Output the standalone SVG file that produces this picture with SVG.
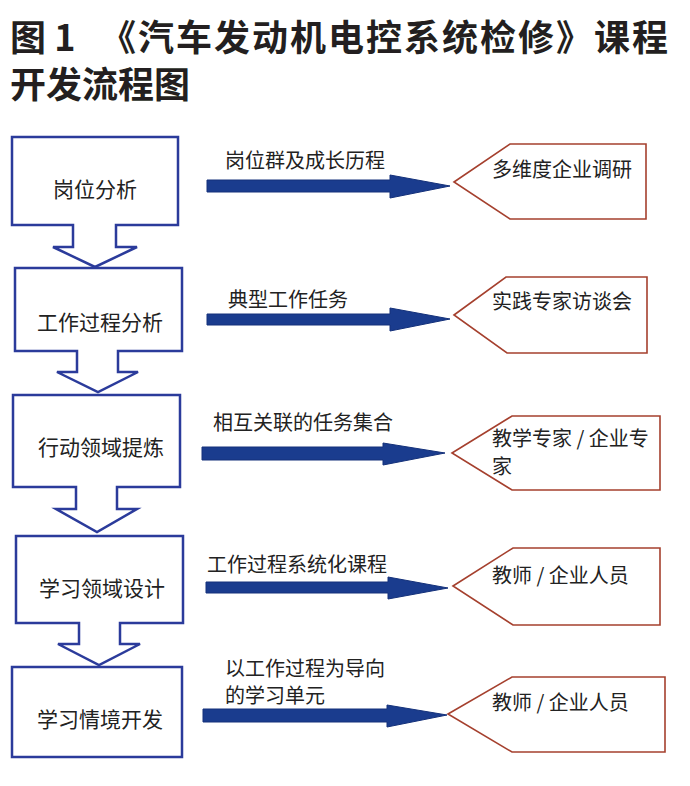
<svg xmlns="http://www.w3.org/2000/svg" width="690" height="786" viewBox="0 0 690 786">
<style>
.title{font-family:"Noto Sans CJK SC","Liberation Sans",sans-serif;font-weight:bold;font-size:36px;fill:#231f20}
.box{fill:#fff;stroke:#2b3b9b;stroke-width:2.5;stroke-linejoin:miter}
.call{fill:#fff;stroke:#a5402e;stroke-width:1.6}
.arr{fill:#1a3c8e;stroke:#14317a;stroke-width:1}
.t{font-family:"Noto Sans CJK SC","Liberation Sans",sans-serif;font-size:20px;fill:#222}
.bt{font-family:"Noto Sans CJK SC","Liberation Sans",sans-serif;font-size:21px;fill:#222;text-anchor:middle}
</style>
<rect width="690" height="786" fill="#fff"/>
<g id="title">
<text class="title" x="10" y="51">图 1</text>
<text class="title" x="100" y="51" textLength="568" lengthAdjust="spacing">《汽车发动机电控系统检修》课程</text>
<text class="title" x="10" y="98">开发流程图</text>
</g>
<g id="n1"><path class="box" d="M12,137 H178 V225 H116 V247 H137 L95,267 L53,247 H73 V225 H12 Z"/><text class="bt" x="95" y="197">岗位分析</text></g>
<g id="n2"><path class="box" d="M15,268 H182 V351 H118 V372 H138 L98,392 L57,372 H77 V351 H15 Z"/><text class="bt" x="100" y="330">工作过程分析</text></g>
<g id="n3"><path class="box" d="M13,395 H180 V487 H117 V509 H137 L97,532 L56,509 H76 V487 H13 Z"/><text class="bt" x="101" y="455">行动领域提炼</text></g>
<g id="n4"><path class="box" d="M16,536 H183 V623 H120 V644 H140 L99,665 L58,644 H79 V623 H16 Z"/><text class="bt" x="102" y="596">学习领域设计</text></g>
<g id="n5"><rect class="box" x="12" y="667" width="170" height="90"/><text class="bt" x="100" y="727">学习情境开发</text></g>
<g id="c1"><path class="call" d="M454,182 L510,144 H646 V219 H510 Z"/><text class="t" x="492" y="177">多维度企业调研</text></g>
<g id="c2"><path class="call" d="M454,315 L506,277 H647 V353 H507 Z"/><text class="t" x="492" y="309">实践专家访谈会</text></g>
<g id="c3"><path class="call" d="M452,453 L512,416 H660 V490 H512 Z"/><text class="t" x="492" y="446">教学专家 / 企业专</text><text class="t" x="492" y="474">家</text></g>
<g id="c4"><path class="call" d="M453,586 L513,548 H660 V625 H513 Z"/><text class="t" x="492" y="583">教师 / 企业人员</text></g>
<g id="c5"><path class="call" d="M448,714 L512,677 H665 V752 H512 Z"/><text class="t" x="492" y="710">教师 / 企业人员</text></g>
<g id="connectors">
<path class="arr" d="M207,180 H390 V175 L450,186 L390,198 V192 H207 Z"/>
<path class="arr" d="M207,314 H390 V308 L450,319 L390,331 V325 H207 Z"/>
<path class="arr" d="M202,447 H383 V443 L445,453 L383,465 V460 H202 Z"/>
<path class="arr" d="M206,582 H388 V577 L448,588 L388,599 V593 H206 Z"/>
<path class="arr" d="M203,709 H387 V705 L447,715 L387,727 V722 H203 Z"/>
<text class="t" x="225" y="168">岗位群及成长历程</text>
<text class="t" x="228" y="307">典型工作任务</text>
<text class="t" x="213" y="430">相互关联的任务集合</text>
<text class="t" x="207" y="572">工作过程系统化课程</text>
<text class="t" x="225" y="676">以工作过程为导向</text>
<text class="t" x="225" y="703">的学习单元</text>
</g>
</svg>
